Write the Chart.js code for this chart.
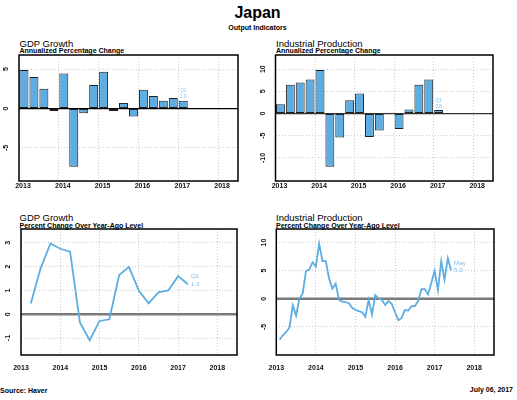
<!DOCTYPE html>
<html>
<head>
<meta charset="utf-8">
<title>Japan - Output Indicators</title>
<script src="https://cdn.jsdelivr.net/npm/chart.js@4.4.0/dist/chart.umd.min.js"></script>
<style>
    body { margin: 0; background: #fff; font-family: "Liberation Sans", Arial, sans-serif; color: #000; }
    #page { position: relative; width: 517px; height: 400px; overflow: hidden; }
    #page div { position: absolute; white-space: nowrap; }
    #page canvas { position: absolute; }
    .main { font-size: 16px; line-height: 16px; font-weight: bold; }
    .sub { font-size: 7px; line-height: 7px; font-weight: bold; }
    .ptitle { font-size: 9.5px; line-height: 9.5px; }
</style>
</head>
<body>
<div id="page">
    <div class="main" style="left:0; width:515px; text-align:center; top:4.5px;">Japan</div>
    <div class="sub" style="left:0; width:515px; text-align:center; top:24px;">Output Indicators</div>

    <div class="ptitle" style="left:19.5px; top:39.3px;">GDP Growth</div>
    <div class="sub" style="left:19.5px; top:47.4px;">Annualized Percentage Change</div>
    <div class="ptitle" style="left:276px; top:39.3px;">Industrial Production</div>
    <div class="sub" style="left:276px; top:47.4px;">Annualized Percentage Change</div>

    <div class="ptitle" style="left:19.5px; top:213.3px;">GDP Growth</div>
    <div class="sub" style="left:19.5px; top:221.6px;">Percent Change Over Year-Ago Level</div>
    <div class="ptitle" style="left:276px; top:213.3px;">Industrial Production</div>
    <div class="sub" style="left:276px; top:221.6px;">Percent Change Over Year-Ago Level</div>

    <canvas id="gdpBars" width="258" height="150" style="left:0; top:50px;"></canvas>
    <canvas id="ipBars" width="259" height="150" style="left:258px; top:50px;"></canvas>
    <canvas id="gdpLine" width="258" height="160" style="left:0; top:224px;"></canvas>
    <canvas id="ipLine" width="259" height="160" style="left:258px; top:224px;"></canvas>

    <div class="sub" style="left:0; top:386.5px;">Source: Haver</div>
    <div class="sub" style="right:4px; top:386px;">July 06, 2017</div>
</div>

<script>
// ---------- DATA ----------
const yearTicks = [2013, 2014, 2015, 2016, 2017, 2018];

const quarters = [
    '2013-Q1', '2013-Q2', '2013-Q3', '2013-Q4',
    '2014-Q1', '2014-Q2', '2014-Q3', '2014-Q4',
    '2015-Q1', '2015-Q2', '2015-Q3', '2015-Q4',
    '2016-Q1', '2016-Q2', '2016-Q3', '2016-Q4',
    '2017-Q1'
];

// annualized q/q % change
const gdpAnnualized = [4.9, 4.0, 2.5, -0.3, 4.45, -7.4, -0.6, 3.0, 4.66, -0.3, 0.72, -1.0, 2.4, 1.6, 1.0, 1.35, 1.0];
const ipAnnualized = [2.1, 6.5, 7.0, 7.7, 9.8, -12.0, -5.4, 3.0, 4.5, -5.3, -3.8, 0.2, -3.5, 0.9, 6.5, 7.7, 0.8];

// % change over year-ago level
const gdpYoY = [0.45, 1.93, 2.97, 2.75, 2.63, -0.34, -1.09, -0.28, -0.21, 1.65, 1.99, 0.99, 0.46, 0.92, 1.0, 1.6, 1.26];

const months = [
    '2013-01', '2013-02', '2013-03', '2013-04', '2013-05', '2013-06', '2013-07', '2013-08', '2013-09', '2013-10', '2013-11', '2013-12',
    '2014-01', '2014-02', '2014-03', '2014-04', '2014-05', '2014-06', '2014-07', '2014-08', '2014-09', '2014-10', '2014-11', '2014-12',
    '2015-01', '2015-02', '2015-03', '2015-04', '2015-05', '2015-06', '2015-07', '2015-08', '2015-09', '2015-10', '2015-11', '2015-12',
    '2016-01', '2016-02', '2016-03', '2016-04', '2016-05', '2016-06', '2016-07', '2016-08', '2016-09', '2016-10', '2016-11', '2016-12',
    '2017-01', '2017-02', '2017-03', '2017-04', '2017-05'
];
const ipYoY = [
    -7.3, -6.5, -5.9, -5.1, -1.2, -3.0, 0.05, 0.95, 4.9, 5.2, 6.5, 5.7,
    9.8, 6.7, 6.7, 3.6, 1.8, 2.7, -0.2, -0.5, -0.6, -0.8, -1.6, -2.0,
    -2.2, -2.4, -3.2, -0.2, -2.8, 0.65, 0.05, -0.2, -1.1, -0.4, -0.9, -2.4,
    -3.8, -3.4, -2.0, -2.1, -1.3, -1.3, -0.4, 1.7, 1.7, 0.8, 2.8, 5.0,
    1.5, 6.7, 3.4, 7.2, 5.0
];
const monthNames = ['Jan', 'Feb', 'Mar', 'Apr', 'May', 'Jun', 'Jul', 'Aug', 'Sep', 'Oct', 'Nov', 'Dec'];

// ---------- HELPERS ----------
const FONT = '"Liberation Sans", Arial, sans-serif';
const BLUE = '#5dade2';
const LABEL_BLUE = '#7cbdea';

function quarterStart(q) {
    const [y, n] = q.split('-Q');
    return +y + (n - 1) / 4;
}
function monthEnd(m) {
    const [y, mm] = m.split('-');
    return +y + mm / 12;
}

// zero line, frame, rotated y labels and last-value note
const panelDecor = {
    id: 'panelDecor',
    beforeDatasetsDraw(chart) {
        const o = chart.options.plugins.panelDecor;
        const { ctx, chartArea } = chart;
        const y0 = chart.scales.y.getPixelForValue(0);
        ctx.save();
        ctx.strokeStyle = o.zeroColor;
        ctx.lineWidth = o.zeroWidth;
        ctx.beginPath();
        ctx.moveTo(chartArea.left, y0);
        ctx.lineTo(chartArea.right, y0);
        ctx.stroke();
        ctx.restore();
    },
    afterDraw(chart) {
        const o = chart.options.plugins.panelDecor;
        const { ctx, chartArea } = chart;
        const yScale = chart.scales.y;
        ctx.save();

        // frame
        ctx.strokeStyle = '#000';
        ctx.lineWidth = 1.5;
        ctx.strokeRect(chartArea.left, chartArea.top, chartArea.right - chartArea.left, chartArea.bottom - chartArea.top);

        // y tick labels, rotated
        ctx.fillStyle = '#111';
        ctx.font = 'bold 7px ' + FONT;
        ctx.textAlign = 'center';
        ctx.textBaseline = 'middle';
        yScale.ticks.forEach(t => {
            ctx.save();
            ctx.translate(chartArea.left - 12.5, yScale.getPixelForValue(t.value));
            ctx.rotate(-Math.PI / 2);
            ctx.fillText(String(t.value), 0, 0);
            ctx.restore();
        });

        // last value note
        const meta = chart.getDatasetMeta(0);
        const el = meta.data[meta.data.length - 1];
        ctx.fillStyle = LABEL_BLUE;
        if (o.noteStyle === 'bar') {
            const top = Math.min(el.y, el.base);
            ctx.font = '4.5px ' + FONT;
            ctx.textAlign = 'center';
            ctx.fillText(o.noteValue, el.x, top - 3.5);
            ctx.fillText(o.notePeriod, el.x, top - 9.5);
        } else {
            ctx.font = '6.2px ' + FONT;
            ctx.textAlign = 'left';
            ctx.fillText(o.noteValue, el.x + 3, el.y);
            ctx.fillText(o.notePeriod, el.x + 3, el.y - 7.5);
        }
        ctx.restore();
    }
};

function makePanel(id, cfg) {
    const gridCommon = { color: '#cbcbcb', lineWidth: 1, drawTicks: false, offset: false };
    return new Chart(document.getElementById(id), {
        type: cfg.type,
        data: { datasets: [cfg.dataset] },
        options: {
            responsive: false,
            animation: false,
            layout: { padding: { left: 0, top: 5, right: cfg.padRight, bottom: 0 } },
            plugins: {
                legend: { display: false },
                tooltip: { enabled: false },
                panelDecor: cfg.decor
            },
            scales: {
                x: {
                    type: 'linear',
                    min: 2013,
                    max: 2018.5,
                    offset: false,
                    afterBuildTicks: s => { s.ticks = yearTicks.map(v => ({ value: v })); },
                    afterFit: s => { s.height = cfg.xHeight; },
                    grid: gridCommon,
                    border: { display: false, dash: [1, 2] },
                    ticks: {
                        padding: cfg.xPad,
                        labelOffset: cfg.xLabelOffset,
                        maxRotation: 0,
                        autoSkip: false,
                        color: '#111',
                        font: { family: FONT, size: 7, weight: 'bold' },
                        callback: v => String(v)
                    }
                },
                y: {
                    min: cfg.yMin,
                    max: cfg.yMax,
                    afterBuildTicks: s => { s.ticks = cfg.yTicks.map(v => ({ value: v })); },
                    afterFit: s => { s.width = cfg.yWidth; },
                    grid: gridCommon,
                    border: { display: false, dash: [1, 2] },
                    ticks: { display: false }
                }
            }
        },
        plugins: [panelDecor]
    });
}

function barDataset(values) {
    return {
        type: 'bar',
        data: quarters.map((q, i) => ({ x: quarterStart(q) + 0.125, y: values[i] })),
        backgroundColor: BLUE,
        borderColor: '#1e1e1e',
        borderWidth: 1,
        borderSkipped: false,
        barPercentage: 0.9,
        categoryPercentage: 1
    };
}

function lineDataset(xs, values) {
    return {
        type: 'line',
        data: xs.map((x, i) => ({ x: x, y: values[i] })),
        borderColor: BLUE,
        borderWidth: 1.8,
        pointRadius: 0,
        tension: 0,
        fill: false
    };
}

const lastQuarter = quarters[quarters.length - 1].split('-')[1];
const lastMonth = monthNames[+months[months.length - 1].split('-')[1] - 1];

// ---------- CHARTS ----------
makePanel('gdpBars', {
    type: 'bar',
    dataset: barDataset(gdpAnnualized),
    yMin: -9.2, yMax: 6.8, yTicks: [-5, 0, 5],
    yWidth: 19, padRight: 20, xHeight: 19, xPad: 1, xLabelOffset: 4,
    decor: { zeroColor: '#000', zeroWidth: 1.2, noteStyle: 'bar',
             noteValue: gdpAnnualized[gdpAnnualized.length - 1].toFixed(1), notePeriod: lastQuarter }
});

makePanel('ipBars', {
    type: 'bar',
    dataset: barDataset(ipAnnualized),
    yMin: -15.2, yMax: 13.2, yTicks: [-10, -5, 0, 5, 10],
    yWidth: 17.5, padRight: 24, xHeight: 19, xPad: 1, xLabelOffset: 4,
    decor: { zeroColor: '#333', zeroWidth: 1.2, noteStyle: 'bar',
             noteValue: ipAnnualized[ipAnnualized.length - 1].toFixed(1), notePeriod: lastQuarter }
});

makePanel('gdpLine', {
    type: 'line',
    dataset: lineDataset(quarters.map(q => quarterStart(q) + 0.25), gdpYoY),
    yMin: -1.71, yMax: 3.58, yTicks: [-1, 0, 1, 2, 3],
    yWidth: 21, padRight: 21, xHeight: 29, xPad: 8.5, xLabelOffset: 0,
    decor: { zeroColor: '#7a7a7a', zeroWidth: 2.5, noteStyle: 'line',
             noteValue: gdpYoY[gdpYoY.length - 1].toFixed(1), notePeriod: lastQuarter }
});

makePanel('ipLine', {
    type: 'line',
    dataset: lineDataset(months.map(monthEnd), ipYoY),
    yMin: -10, yMax: 12.4, yTicks: [-5, 0, 5, 10],
    yWidth: 18.3, padRight: 23, xHeight: 29, xPad: 8.5, xLabelOffset: 0,
    decor: { zeroColor: '#7a7a7a', zeroWidth: 2.5, noteStyle: 'line',
             noteValue: ipYoY[ipYoY.length - 1].toFixed(1), notePeriod: lastMonth }
});
</script>
</body>
</html>
